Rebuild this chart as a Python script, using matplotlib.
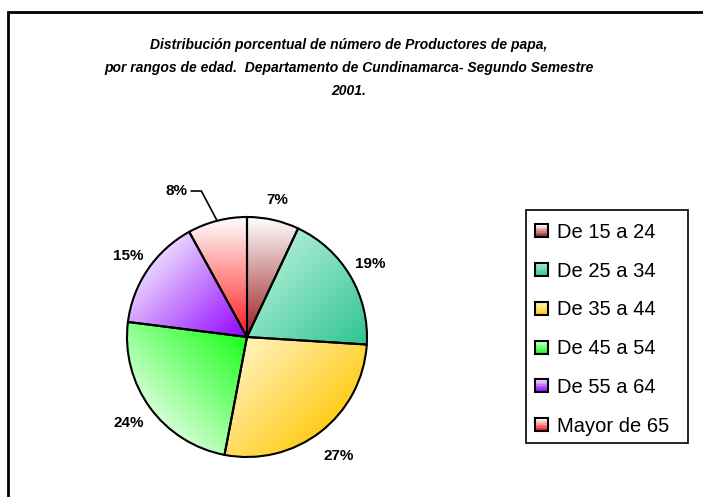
import numpy as np
import matplotlib
matplotlib.use('Agg')
import matplotlib.pyplot as plt
from matplotlib.patches import Rectangle
from matplotlib.legend_handler import HandlerBase
from matplotlib.colors import to_rgb

categories = ['De 15 a 24', 'De 25 a 34', 'De 35 a 44', 'De 45 a 54', 'De 55 a 64', 'Mayor de 65']
values = [7, 19, 27, 24, 15, 8]

title = ('Distribución porcentual de número de Productores de papa,\n'
         'por rangos de edad.  Departamento de Cundinamarca- Segundo Semestre\n'
         '2001.')

# gradient colours (light, dark) and direction light -> dark
light = ['#ffffff', '#a8ecd4', '#fff3c0', '#d8ffd8', '#ead6ff', '#ffffff']
dark = ['#9a1c1c', '#2fc48f', '#ffcc1a', '#1aff1a', '#9000ff', '#ff1a1a']
direc = [(0, -1), (1, -1), (1, -1), (1, 1), (1, -1), (0, -1)]
pct_dist = [1.17, 1.19, 1.25, 1.22, 1.2]

W, H = 703, 497
fig = plt.figure(figsize=(W / 100, H / 100), dpi=100)
ax = fig.add_axes([0, 0, 1, 1])

# outer frame (chart area border)
ax.add_patch(Rectangle((8, -20), W + 20, H - 12 + 20, fill=False, lw=2, ec='black'))

cx, cy, r = 247, H - 337, 120
wedges, _ = ax.pie(values, center=(cx, cy), radius=r, startangle=90, counterclock=False,
                   wedgeprops=dict(edgecolor='black', linewidth=1.5, facecolor='none'),
                   frame=True)
ax.set_xlim(0, W)
ax.set_ylim(0, H)
ax.set_aspect('equal')
ax.axis('off')


def gradient_fill(w, c1, c2, d):
    verts = w.get_path().vertices
    d = np.array(d, float)
    d /= np.hypot(*d)
    p = verts @ d
    x0, y0 = verts.min(axis=0)
    x1, y1 = verts.max(axis=0)
    xs = np.linspace(x0, x1, 200)
    ys = np.linspace(y0, y1, 200)
    X, Y = np.meshgrid(xs, ys)
    t = np.clip((X * d[0] + Y * d[1] - p.min()) / (p.max() - p.min()), 0, 1)
    a, b = np.array(to_rgb(c1)), np.array(to_rgb(c2))
    img = a + (b - a) * t[..., None]
    im = ax.imshow(img, extent=(x0, x1, y0, y1), origin='lower', zorder=w.get_zorder() - 0.1,
                   interpolation='bilinear')
    im.set_clip_path(w)


for w, c1, c2, d in zip(wedges, light, dark, direc):
    gradient_fill(w, c1, c2, d)

# percentage labels
lab_font = dict(family=['Liberation Sans', 'DejaVu Sans'], fontsize=11, fontweight='bold')
for i, (w, v) in enumerate(zip(wedges, values)):
    ang = np.deg2rad((w.theta1 + w.theta2) / 2)
    if i < len(pct_dist):
        k = pct_dist[i]
        ax.text(cx + k * r * np.cos(ang), cy + k * r * np.sin(ang), f'{v}%',
                ha='center', va='center', **lab_font)
    else:
        ex, ey = cx + r * np.cos(ang), cy + r * np.sin(ang)
        ax.annotate(f'{v}%', xy=(ex, ey), xytext=(176, H - 191), ha='center', va='center',
                    arrowprops=dict(arrowstyle='-', color='black', lw=1.2,
                                    connectionstyle='angle,angleA=0,angleB=118,rad=0',
                                    shrinkA=1, shrinkB=0),
                    **lab_font)

ax.text(349, H - 68, title, ha='center', va='center', fontsize=10, fontstyle='italic',
        fontweight='bold', family=['Liberation Sans Narrow', 'Liberation Sans'],
        linespacing=1.82)


class GradHandler(HandlerBase):
    def __init__(self, c1, c2):
        super().__init__()
        self.c1, self.c2 = np.array(to_rgb(c1)), np.array(to_rgb(c2))

    def create_artists(self, legend, orig_handle, xdescent, ydescent, width, height,
                       fontsize, trans):
        s = height
        x0, y0 = -xdescent, -ydescent
        arts = []
        n = 8
        for j in range(n):
            t = j / (n - 1)
            col = self.c1 + (self.c2 - self.c1) * t
            arts.append(Rectangle((x0, y0 + s * (n - 1 - j) / n), s, s / n, fc=col, ec='none',
                                  transform=trans))
        arts.append(Rectangle((x0, y0), s, s, fill=False, ec='black', lw=1.5, transform=trans))
        return arts


# legend box drawn separately, entries placed inside it
ax.add_patch(Rectangle((526, H - 443), 162, 233, fill=False, ec='black', lw=1.2, zorder=3))
hmap = {w: GradHandler(c1, c2) for w, c1, c2 in zip(wedges, light, dark)}
leg = ax.legend(wedges, categories, handler_map=hmap, loc='upper left',
                bbox_to_anchor=(535, H - 223), bbox_transform=ax.transData,
                prop=dict(family='Liberation Sans', size=14.5),
                frameon=False,
                handlelength=0.62, handleheight=0.62, handletextpad=0.45,
                labelspacing=0.98, borderpad=0.0, borderaxespad=0)

fig.savefig('out.png', dpi=100)
